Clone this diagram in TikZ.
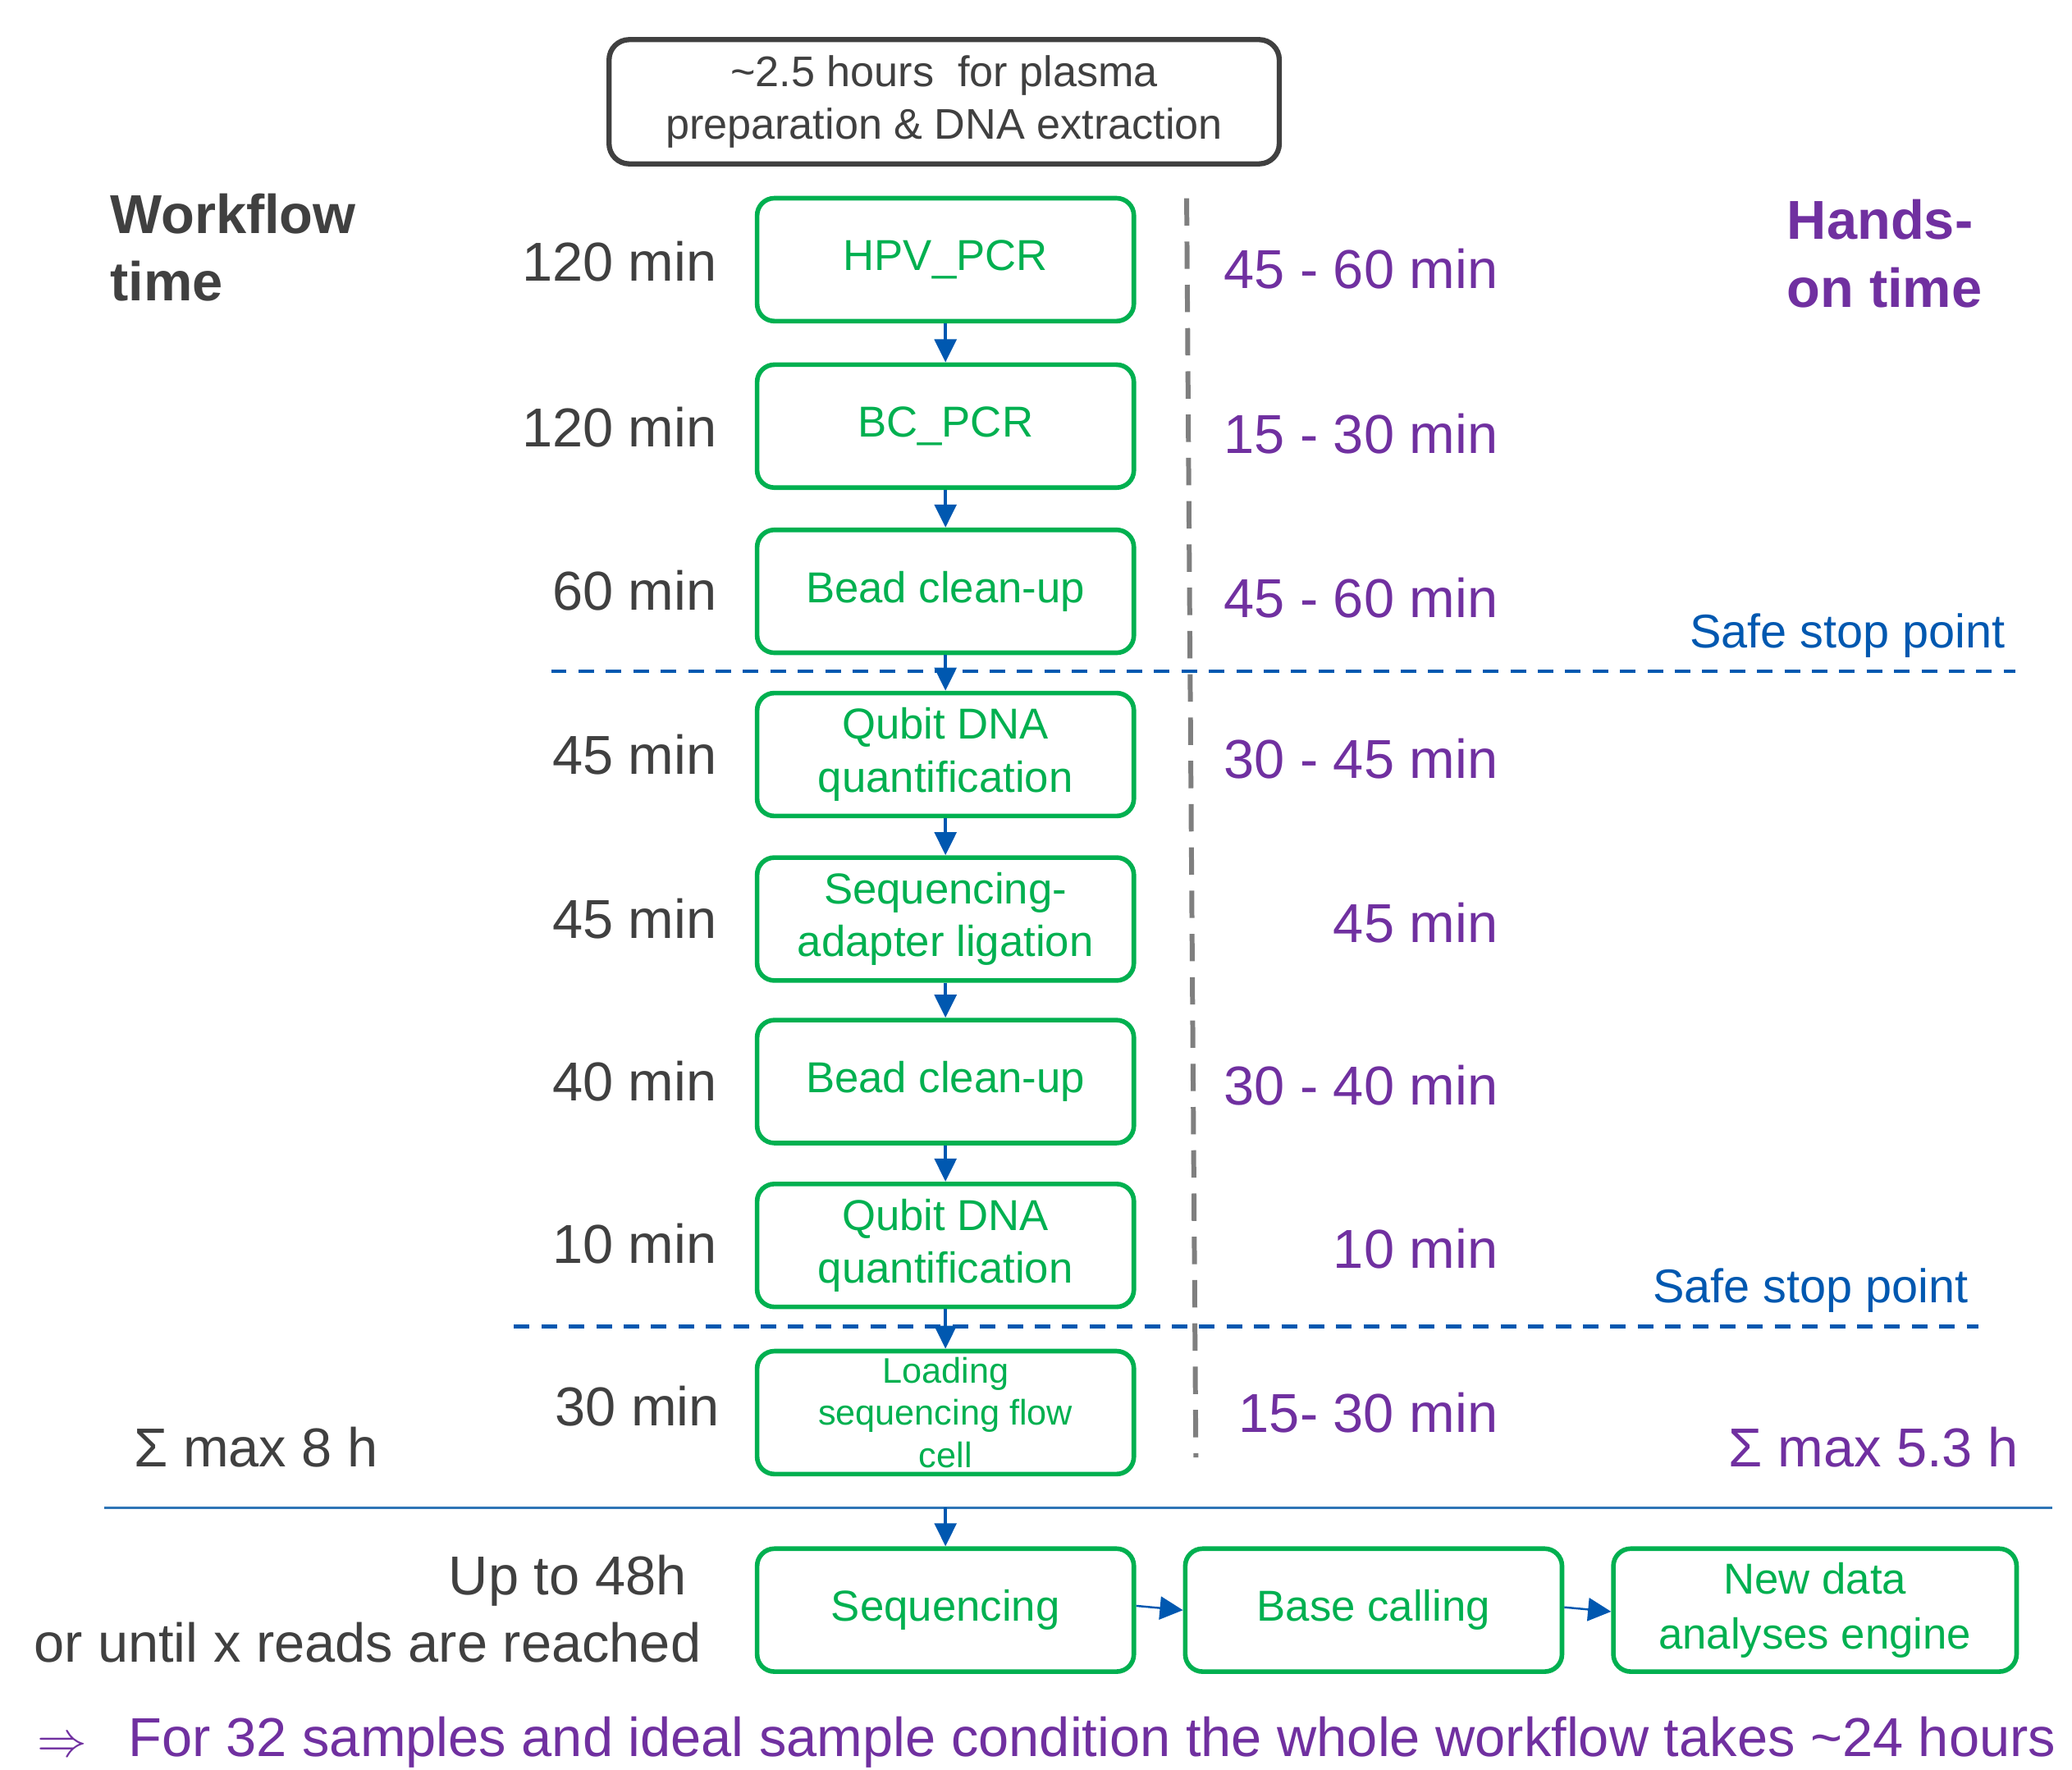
\documentclass[tikz,border=0pt]{standalone}
\usepackage{fontspec}
\setmainfont{Liberation Sans}
\usetikzlibrary{arrows.meta}
\definecolor{dgray}{HTML}{404040}
\definecolor{grn}{HTML}{00B050}
\definecolor{blu}{HTML}{0058B0}
\definecolor{lblu}{HTML}{2E75B6}
\definecolor{purp}{HTML}{7030A0}
\definecolor{dashgray}{HTML}{7F7F7F}
\newlength\spx \setlength\spx{0.4582pt}
\begin{document}
\begin{tikzpicture}[x=0.016103cm,y=-0.016103cm,
  stepbox/.style={draw=grn, line width=1.6pt, rounded corners=6pt, minimum width=285\spx, minimum height=93\spx, text=grn, align=center, inner sep=0pt, font=\fontsize{15}{18.3}\selectfont},
  flow/.style={draw=blu, line width=1.3pt, -{Triangle[width=7.5pt,length=8pt]}},
  hflow/.style={draw=blu, line width=0.7pt, -{Triangle[width=8pt,length=8pt]}},
  tl/.style={anchor=base east, text=dgray, inner sep=0pt, font=\fontsize{19}{23}\selectfont},
  hl/.style={anchor=base east, text=purp, inner sep=0pt, font=\fontsize{19}{23}\selectfont},
  safe/.style={anchor=base east, text=blu, inner sep=0pt, font=\fontsize{16.4}{19}\selectfont},
  head/.style={anchor=west, inner sep=0pt, align=left, font=\fontsize{19}{23.4}\selectfont\bfseries},
  gdash/.style={draw=dashgray, line width=1.7pt, dash pattern=on 9.5pt off 5.5pt},
  bdash/.style={draw=blu, line width=1.3pt, dash pattern=on 5.4pt off 4.1pt}
]
\useasboundingbox (0,0) rectangle (1568,1339);

% top box
\node[draw=dgray, line width=1.8pt, rounded corners=7pt, minimum width=507\spx, minimum height=94\spx, align=center, text=dgray, inner sep=0pt, font=\fontsize{14.85}{18.3}\selectfont] (top) at (714.5,77) {\textasciitilde2.5 hours\ \ for plasma\\preparation \& DNA extraction};

% separators
\draw[gdash] (898,150) -- (905,1103);
\draw[bdash] (417,508) -- (1525,508);
\draw[bdash] (389,1004) -- (1497,1004);
\draw[lblu, line width=1pt] (79,1141) -- (1553,1141);

% steps
\node[stepbox, fill=white] (b1) at (715.5,196.5) {HPV\_PCR};
\node[stepbox, fill=white] (b2) at (715.5,322.5) {BC\_PCR};
\node[stepbox, fill=white] (b3) at (715.5,447.5) {Bead clean-up};
\node[stepbox, fill=white] (b4) at (715.5,571) {Qubit DNA\\quantification};
\node[stepbox, fill=white] (b5) at (715.5,695.5) {Sequencing-\\adapter ligation};
\node[stepbox, fill=white] (b6) at (715.5,818.5) {Bead clean-up};
\node[stepbox, fill=white] (b7) at (715.5,942.5) {Qubit DNA\\quantification};
\node[stepbox, fill=white, font=\fontsize{12.3}{14.7}\selectfont] (b8) at (715.5,1069) {Loading\\sequencing flow\\cell};
\node[stepbox, fill=white] (s1) at (715.5,1218.5) {Sequencing};
\node[stepbox, fill=white] (s2) at (1039.5,1218.5) {Base calling};
\node[stepbox, fill=white, minimum width=305\spx, font=\fontsize{15}{19.2}\selectfont] (s3) at (1373.5,1218.5) {New data\\analyses engine};

% arrows
\foreach \a/\b in {b1/b2,b2/b3,b3/b4,b4/b5,b5/b6,b6/b7,b7/b8}
  \draw[flow] (\a.south) -- (\b.north);
\coordinate (lineC) at (715.5,1141);
\draw[flow] (lineC) -- (s1.north);
\draw[hflow] ([yshift=1.5pt]s1.east) -- (s2.west);
\draw[hflow] ([yshift=1pt]s2.east) -- ([yshift=-0.5pt]s3.west);

% headers
\node[head, text=dgray] (wt) at (83,187.5) {Workflow\\time};
\node[head, text=purp] (ht) at (1352,192) {Hands-\\on time};

% workflow times
\node[tl] (t1) at (543,213) {120 min};
\node[tl] (t2) at (543,338) {120 min};
\node[tl] (t3) at (543,462) {60 min};
\node[tl] (t4) at (543,586) {45 min};
\node[tl] (t5) at (543,710) {45 min};
\node[tl] (t6) at (543,833) {40 min};
\node[tl] (t7) at (543,956) {10 min};
\node[tl] (t8) at (545,1079) {30 min};

% hands-on times
\node[hl] (h1) at (1134,218) {45 - 60 min};
\node[hl] (h2) at (1134,343) {15 - 30 min};
\node[hl] (h3) at (1134,467) {45 - 60 min};
\node[hl] (h4) at (1134,589) {30 - 45 min};
\node[hl] (h5) at (1134,713) {45 min};
\node[hl] (h6) at (1134,836) {30 - 40 min};
\node[hl] (h7) at (1134,960) {10 min};
\node[hl] (h8) at (1134,1084) {15- 30 min};

% safe stop points
\node[safe] (ss1) at (1518,490) {Safe stop point};
\node[safe] (ss2) at (1490,986) {Safe stop point};

% sums
\node[tl, anchor=base west] (sum1) at (101,1110) {Σ max 8 h};
\node[hl] (sum2) at (1528,1110) {Σ max 5.3 h};

% sequencing duration
\node[tl] (u1) at (520,1207) {Up to 48h};
\node[tl] (u2) at (531,1258) {or until x reads are reached};

% bottom conclusion
\node[anchor=base west, inner sep=0pt, text=purp, font=\fontsize{19}{23}\selectfont] (arr) at (28,1329) {$\Rightarrow$};
\node[anchor=base west, inner sep=0pt, text=purp, font=\fontsize{19}{23}\selectfont] (concl) at (97,1329) {For 32 samples and ideal sample condition the whole workflow takes \textasciitilde24 hours};
\end{tikzpicture}
\end{document}
